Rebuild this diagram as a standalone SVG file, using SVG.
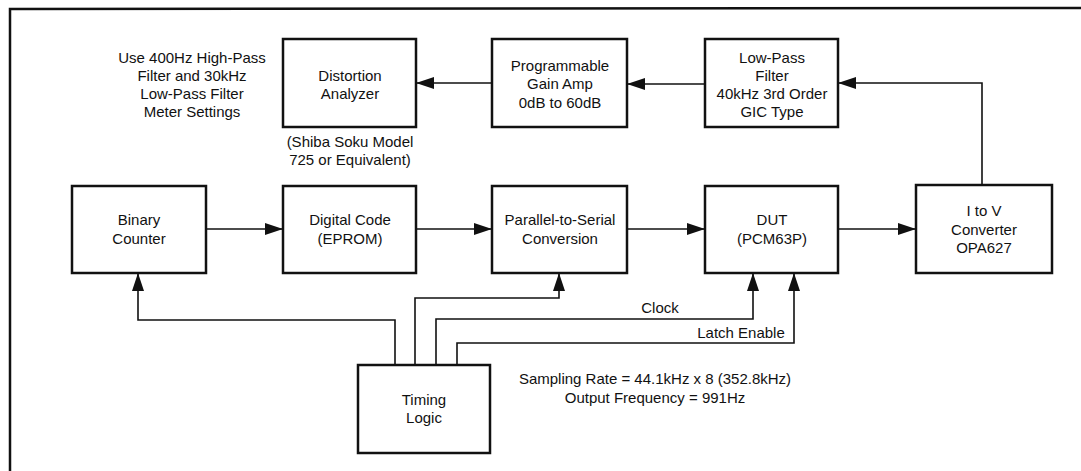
<svg xmlns="http://www.w3.org/2000/svg" width="1081" height="471" viewBox="0 0 1081 471">
<style>
.box{fill:none;stroke:#111;stroke-width:2.5}
.ln{fill:none;stroke:#111;stroke-width:1.6}
.frame{fill:none;stroke:#111;stroke-width:2.5}
text{font-family:"Liberation Sans",Arial,sans-serif;font-size:15px;fill:#111;text-anchor:middle}
</style>
<defs>
<marker id="ah" markerUnits="userSpaceOnUse" markerWidth="18" markerHeight="12" refX="18" refY="6" orient="auto">
<path d="M0,0 L18,6 L0,12 Z" fill="#111"/>
</marker>
</defs>
<rect width="1081" height="471" fill="#ffffff"/>
<path class="frame" d="M10,471 L10,9 L1081,8"/>

<g id="note-meter">
<text x="192" y="63">Use 400Hz High-Pass</text>
<text x="192" y="81">Filter and 30kHz</text>
<text x="192" y="99">Low-Pass Filter</text>
<text x="192" y="117">Meter Settings</text>
</g>
<g id="distortion-analyzer">
<rect class="box" x="283" y="39" width="133" height="88"/>
<text x="350" y="81">Distortion</text>
<text x="350" y="99">Analyzer</text>
</g>
<g id="note-shiba">
<text x="350" y="147">(Shiba Soku Model</text>
<text x="350" y="165">725 or Equivalent)</text>
</g>
<g id="pga">
<rect class="box" x="492" y="39" width="135" height="88"/>
<text x="560" y="71">Programmable</text>
<text x="560" y="89">Gain Amp</text>
<text x="560" y="108">0dB to 60dB</text>
</g>
<g id="lpf">
<rect class="box" x="705" y="39" width="133" height="88"/>
<text x="772" y="63">Low-Pass</text>
<text x="772" y="81">Filter</text>
<text x="772" y="99">40kHz 3rd Order</text>
<text x="772" y="117">GIC Type</text>
</g>
<g id="binary-counter">
<rect class="box" x="72" y="186" width="134" height="87"/>
<text x="139" y="225">Binary</text>
<text x="139" y="244">Counter</text>
</g>
<g id="digital-code">
<rect class="box" x="283" y="186" width="133" height="87"/>
<text x="350" y="225">Digital Code</text>
<text x="350" y="244">(EPROM)</text>
</g>
<g id="pts">
<rect class="box" x="492" y="186" width="135" height="87"/>
<text x="560" y="225">Parallel-to-Serial</text>
<text x="560" y="244">Conversion</text>
</g>
<g id="dut">
<rect class="box" x="705" y="186" width="133" height="87"/>
<text x="772" y="225">DUT</text>
<text x="772" y="244">(PCM63P)</text>
</g>
<g id="itov">
<rect class="box" x="916" y="185" width="136" height="88"/>
<text x="984" y="216">I to V</text>
<text x="984" y="235">Converter</text>
<text x="984" y="253">OPA627</text>
</g>
<g id="timing-logic">
<rect class="box" x="358" y="365" width="132" height="88"/>
<text x="424" y="405">Timing</text>
<text x="424" y="423">Logic</text>
</g>
<g id="note-sampling">
<text x="655" y="384">Sampling Rate = 44.1kHz x 8 (352.8kHz)</text>
<text x="655" y="403">Output Frequency = 991Hz</text>
</g>

<g id="connectors">
<path class="ln" d="M206,229 L283,229" marker-end="url(#ah)"/>
<path class="ln" d="M416,229 L492,229" marker-end="url(#ah)"/>
<path class="ln" d="M627,229 L705,229" marker-end="url(#ah)"/>
<path class="ln" d="M838,229 L916,229" marker-end="url(#ah)"/>
<path class="ln" d="M982,185 L982,83 L838,83" marker-end="url(#ah)"/>
<path class="ln" d="M705,84 L627,84" marker-end="url(#ah)"/>
<path class="ln" d="M492,83 L416,83" marker-end="url(#ah)"/>
<path class="ln" d="M395,365 L395,320 L138,320 L138,273" marker-end="url(#ah)"/>
<path class="ln" d="M415,365 L415,298 L559,298 L559,273" marker-end="url(#ah)"/>
<path class="ln" d="M436,365 L436,319 L753,319 L753,273" marker-end="url(#ah)"/>
<path class="ln" d="M457,365 L457,343 L794,343 L794,273" marker-end="url(#ah)"/>
<text x="660" y="313">Clock</text>
<text x="741" y="338">Latch Enable</text>
</g>
</svg>
